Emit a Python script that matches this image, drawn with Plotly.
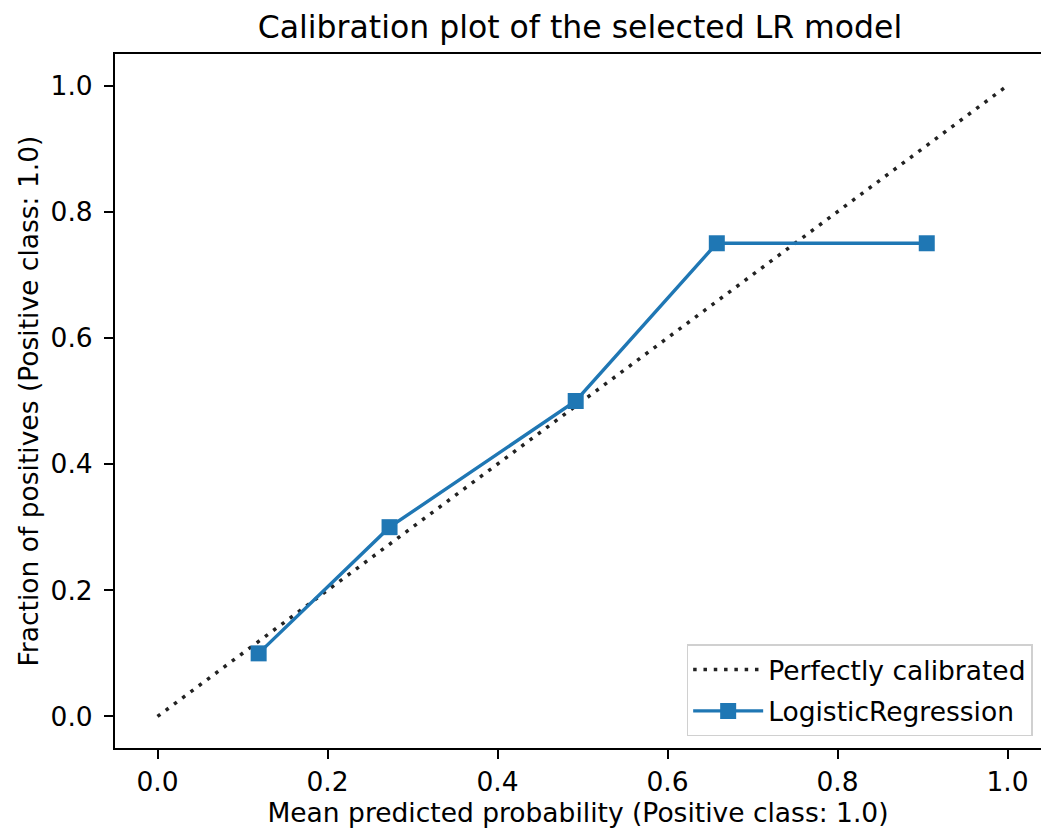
import plotly.graph_objects as go

# Reliability diagram values
mean_predicted = [0.119, 0.273, 0.492, 0.658, 0.905]
fraction_positives = [0.10, 0.30, 0.50, 0.75, 0.75]
diagonal = [0.0, 1.0]
tick_vals = [0.0, 0.2, 0.4, 0.6, 0.8, 1.0]
tick_text = ["0.0", "0.2", "0.4", "0.6", "0.8", "1.0"]

FONT = "DejaVu Sans"
BLUE = "#1f77b4"
BASE = 26.5

fig = go.Figure()
fig.add_trace(go.Scatter(
    x=diagonal, y=diagonal, mode="lines", name="Perfectly calibrated",
    legendgroup="ref",
    line=dict(color="#222222", width=3.5, dash="3.5px,6.8px"),
))
fig.add_trace(go.Scatter(
    x=mean_predicted, y=fraction_positives, mode="lines+markers",
    name="LogisticRegression", legendgroup="lr",
    line=dict(color=BLUE, width=3.4),
    marker=dict(symbol="square", size=16, color=BLUE),
))

axis_common = dict(
    showgrid=False, zeroline=False, showline=True, linecolor="black",
    linewidth=2, ticks="outside", ticklen=9, tickwidth=2,
    tickcolor="black", tickvals=tick_vals, ticktext=tick_text,
    tickfont=dict(family=FONT, size=BASE, color="black"),
)

fig.update_layout(
    width=1041, height=832,
    margin=dict(l=115, r=0, t=54, b=84),
    plot_bgcolor="white", paper_bgcolor="white",
    font=dict(family=FONT, color="black"),
    title=dict(text="Calibration plot of the selected LR model",
               x=580 / 1041, xanchor="center", y=1 - 27 / 832, yanchor="middle",
               font=dict(family=FONT, size=31.5, color="black")),
    xaxis=dict(range=[-0.05, 1.0394], mirror=True,
               title=dict(text="Mean predicted probability (Positive class: 1.0)",
                          font=dict(family=FONT, size=BASE), standoff=8),
               **axis_common),
    yaxis=dict(range=[-0.05, 1.05], mirror=False, ticklabelstandoff=6,
               title=dict(text="Fraction of positives (Positive class: 1.0)",
                          font=dict(family=FONT, size=BASE), standoff=4),
               **axis_common),
    legend=dict(x=0.991, y=0.017, xanchor="right", yanchor="bottom",
                bgcolor="white", bordercolor="#d0d0d0", borderwidth=1.5,
                font=dict(family=FONT, size=BASE, color="black"),
                itemwidth=70, tracegroupgap=4),
    showlegend=True,
)

fig.write_html("out.html")
